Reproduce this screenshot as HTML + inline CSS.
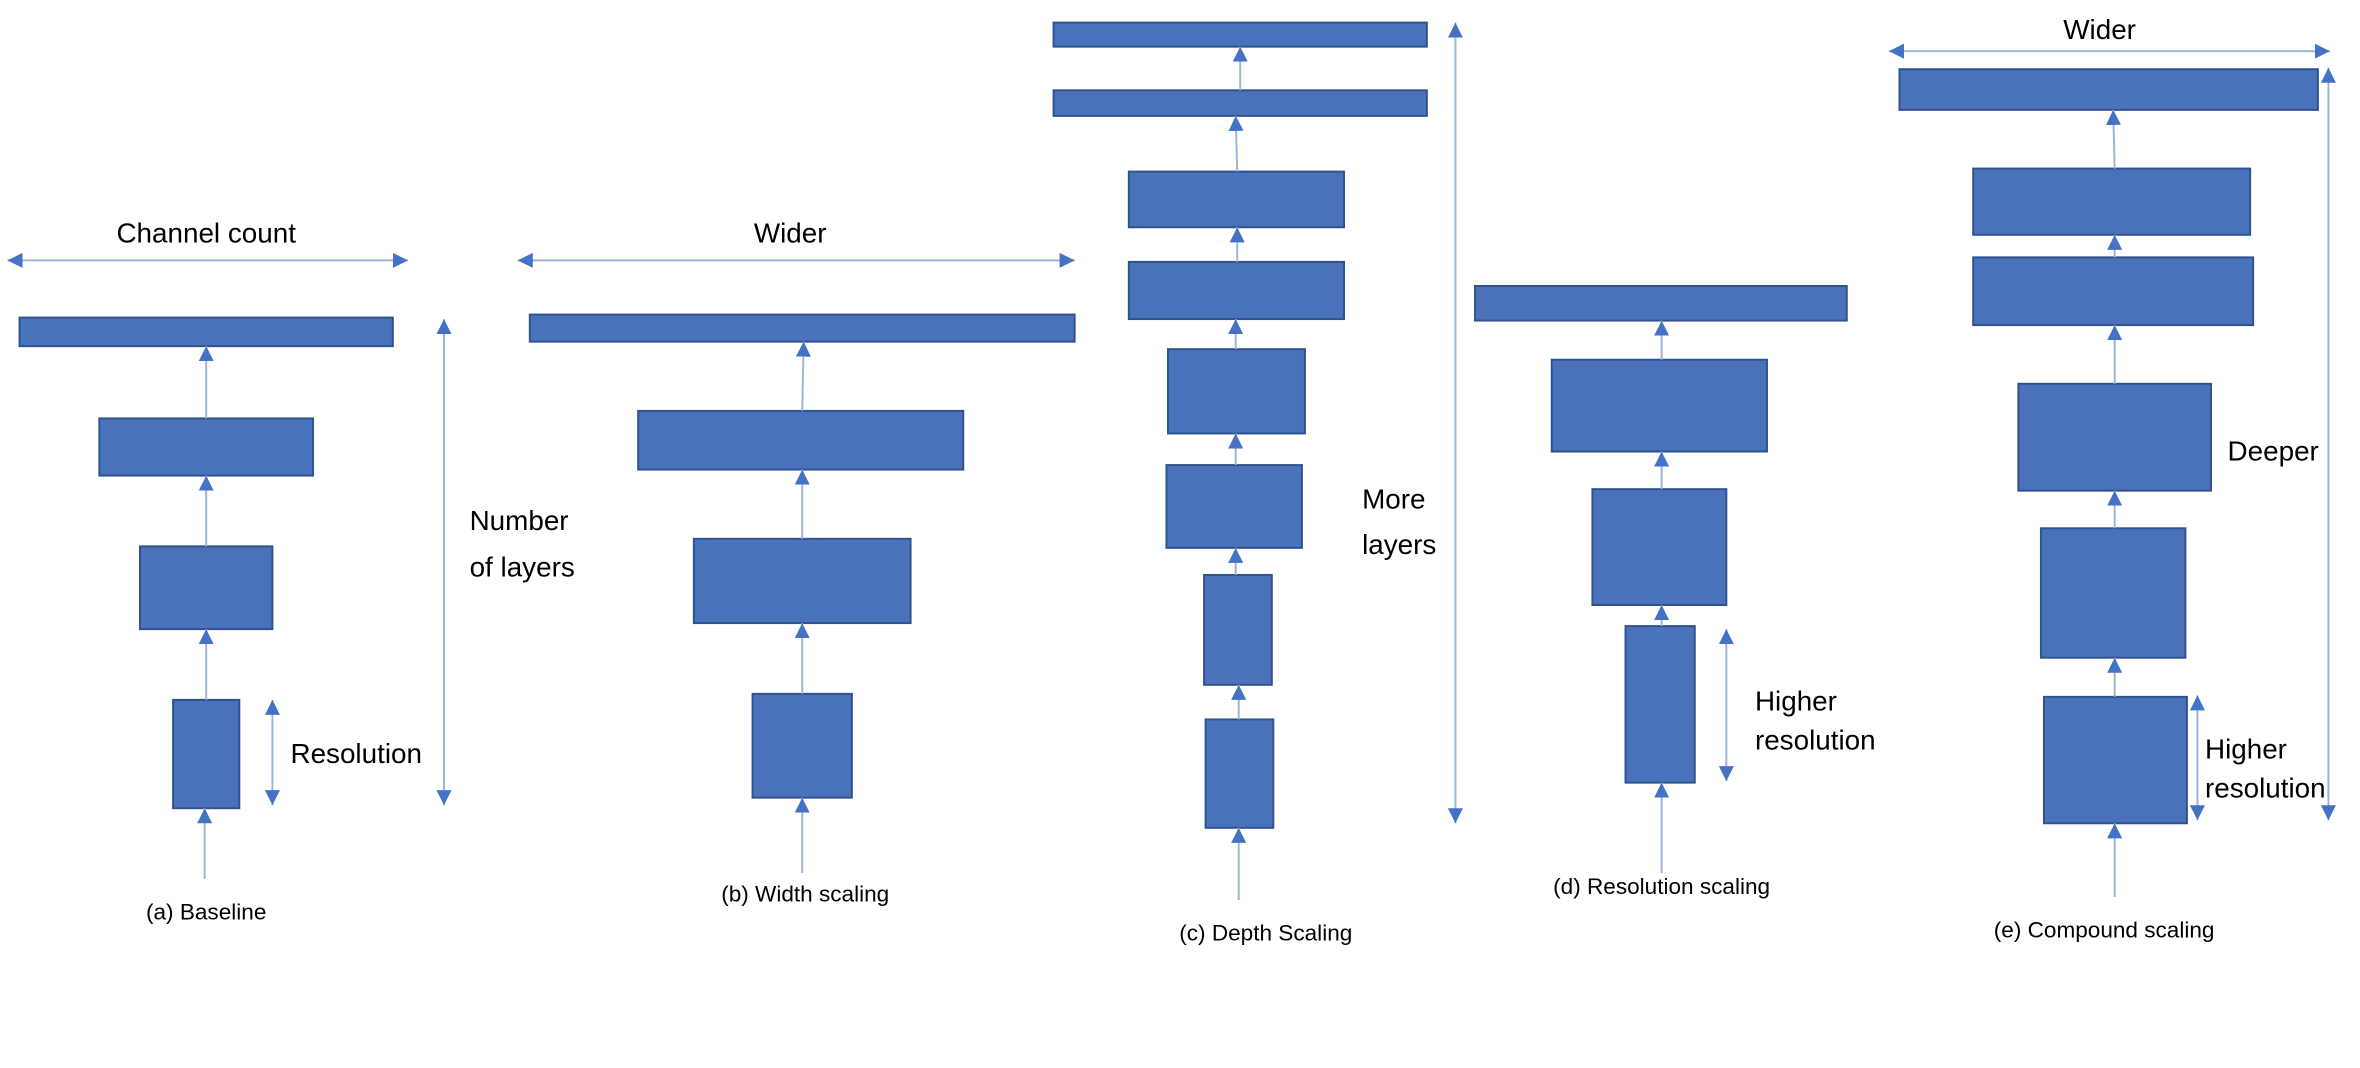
<!DOCTYPE html>
<html><head><meta charset="utf-8"><style>
html,body{margin:0;padding:0;background:#fff;}
svg{display:block;}
text{font-family:"Liberation Sans",sans-serif;fill:#000;}
.b{fill:#4a72bb;stroke:#2f528f;stroke-width:1.3;}
.l{stroke:#9db2dd;stroke-width:1.3;fill:none;}
.lab{font-size:18.5px;}
.cap{font-size:15px;text-anchor:middle;}
</style></head><body>
<svg width="2360" height="1068" viewBox="0 0 1568 709.6" preserveAspectRatio="none" xmlns="http://www.w3.org/2000/svg">
<defs>
<marker id="a" viewBox="0 0 10 10" refX="10" refY="5" markerWidth="10" markerHeight="10" markerUnits="userSpaceOnUse" orient="auto-start-reverse">
<path d="M0,0 L10,5 L0,10 z" fill="#4472c4"/></marker>
</defs>

<!-- (a) -->
<line class="l" x1="5" y1="173" x2="271" y2="173" marker-start="url(#a)" marker-end="url(#a)"/>
<text class="lab" x="137" y="161" text-anchor="middle">Channel count</text>
<rect class="b" x="13" y="211" width="248" height="19"/>
<rect class="b" x="66" y="278" width="142" height="38"/>
<rect class="b" x="93" y="363" width="88" height="55"/>
<rect class="b" x="115" y="465" width="44" height="72"/>
<line class="l" x1="137" y1="278" x2="137" y2="230" marker-end="url(#a)"/>
<line class="l" x1="137" y1="363" x2="137" y2="316" marker-end="url(#a)"/>
<line class="l" x1="137" y1="465" x2="137" y2="418" marker-end="url(#a)"/>
<line class="l" x1="136" y1="584" x2="136" y2="537" marker-end="url(#a)"/>
<line class="l" x1="181" y1="465" x2="181" y2="535" marker-start="url(#a)" marker-end="url(#a)"/>
<text class="lab" x="193" y="507">Resolution</text>
<line class="l" x1="295" y1="212" x2="295" y2="535" marker-start="url(#a)" marker-end="url(#a)"/>
<text class="lab" x="312" y="352">Number</text>
<text class="lab" x="312" y="383">of layers</text>
<text class="cap" x="137" y="611">(a) Baseline</text>

<!-- (b) -->
<line class="l" x1="344" y1="173" x2="714" y2="173" marker-start="url(#a)" marker-end="url(#a)"/>
<text class="lab" x="525" y="161" text-anchor="middle">Wider</text>
<rect class="b" x="352" y="209" width="362" height="18"/>
<rect class="b" x="424" y="273" width="216" height="39"/>
<rect class="b" x="461" y="358" width="144" height="56"/>
<rect class="b" x="500" y="461" width="66" height="69"/>
<line class="l" x1="533" y1="273" x2="534" y2="227" marker-end="url(#a)"/>
<line class="l" x1="533" y1="358" x2="533" y2="312" marker-end="url(#a)"/>
<line class="l" x1="533" y1="461" x2="533" y2="414" marker-end="url(#a)"/>
<line class="l" x1="533" y1="580" x2="533" y2="530" marker-end="url(#a)"/>
<text class="cap" x="535" y="599">(b) Width scaling</text>

<!-- (c) -->
<rect class="b" x="700" y="15" width="248" height="16"/>
<rect class="b" x="700" y="60" width="248" height="17"/>
<rect class="b" x="750" y="114" width="143" height="37"/>
<rect class="b" x="750" y="174" width="143" height="38"/>
<rect class="b" x="776" y="232" width="91" height="56"/>
<rect class="b" x="775" y="309" width="90" height="55"/>
<rect class="b" x="800" y="382" width="45" height="73"/>
<rect class="b" x="801" y="478" width="45" height="72"/>
<line class="l" x1="824" y1="60" x2="824" y2="31" marker-end="url(#a)"/>
<line class="l" x1="822" y1="114" x2="821" y2="77" marker-end="url(#a)"/>
<line class="l" x1="822" y1="174" x2="822" y2="151" marker-end="url(#a)"/>
<line class="l" x1="821" y1="232" x2="821" y2="212" marker-end="url(#a)"/>
<line class="l" x1="821" y1="309" x2="821" y2="288" marker-end="url(#a)"/>
<line class="l" x1="821" y1="382" x2="821" y2="364" marker-end="url(#a)"/>
<line class="l" x1="823" y1="478" x2="823" y2="455" marker-end="url(#a)"/>
<line class="l" x1="823" y1="598" x2="823" y2="550" marker-end="url(#a)"/>
<line class="l" x1="967" y1="15" x2="967" y2="547" marker-start="url(#a)" marker-end="url(#a)"/>
<text class="lab" x="905" y="338">More</text>
<text class="lab" x="905" y="368">layers</text>
<text class="cap" x="841" y="625">(c) Depth Scaling</text>

<!-- (d) -->
<rect class="b" x="980" y="190" width="247" height="23"/>
<rect class="b" x="1031" y="239" width="143" height="61"/>
<rect class="b" x="1058" y="325" width="89" height="77"/>
<rect class="b" x="1080" y="416" width="46" height="104"/>
<line class="l" x1="1104" y1="239" x2="1104" y2="213" marker-end="url(#a)"/>
<line class="l" x1="1104" y1="325" x2="1104" y2="300" marker-end="url(#a)"/>
<line class="l" x1="1104" y1="416" x2="1104" y2="402" marker-end="url(#a)"/>
<line class="l" x1="1104" y1="580" x2="1104" y2="520" marker-end="url(#a)"/>
<line class="l" x1="1147" y1="418" x2="1147" y2="519" marker-start="url(#a)" marker-end="url(#a)"/>
<text class="lab" x="1166" y="472">Higher</text>
<text class="lab" x="1166" y="498">resolution</text>
<text class="cap" x="1104" y="594">(d) Resolution scaling</text>

<!-- (e) -->
<text class="lab" x="1395" y="26" text-anchor="middle">Wider</text>
<line class="l" x1="1255" y1="34" x2="1548" y2="34" marker-start="url(#a)" marker-end="url(#a)"/>
<rect class="b" x="1262" y="46" width="278" height="27"/>
<rect class="b" x="1311" y="112" width="184" height="44"/>
<rect class="b" x="1311" y="171" width="186" height="45"/>
<rect class="b" x="1341" y="255" width="128" height="71"/>
<rect class="b" x="1356" y="351" width="96" height="86"/>
<rect class="b" x="1358" y="463" width="95" height="84"/>
<line class="l" x1="1405" y1="112" x2="1404" y2="73" marker-end="url(#a)"/>
<line class="l" x1="1405" y1="171" x2="1405" y2="156" marker-end="url(#a)"/>
<line class="l" x1="1405" y1="255" x2="1405" y2="216" marker-end="url(#a)"/>
<line class="l" x1="1405" y1="351" x2="1405" y2="326" marker-end="url(#a)"/>
<line class="l" x1="1405" y1="463" x2="1405" y2="437" marker-end="url(#a)"/>
<line class="l" x1="1405" y1="596" x2="1405" y2="547" marker-end="url(#a)"/>
<line class="l" x1="1460" y1="462" x2="1460" y2="545" marker-start="url(#a)" marker-end="url(#a)"/>
<line class="l" x1="1547" y1="45" x2="1547" y2="545" marker-start="url(#a)" marker-end="url(#a)"/>
<text class="lab" x="1480" y="306">Deeper</text>
<text class="lab" x="1465" y="504">Higher</text>
<text class="lab" x="1465" y="530">resolution</text>
<text class="cap" x="1398" y="623">(e) Compound scaling</text>
</svg>
</body></html>
